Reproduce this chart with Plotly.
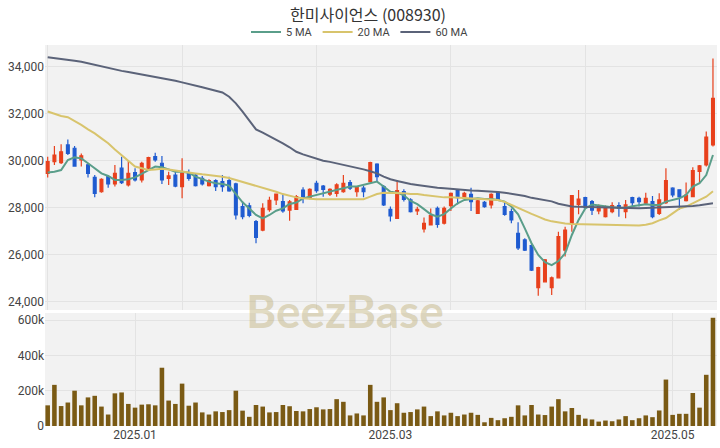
import plotly.graph_objects as go

title = "한미사이언스 (008930)"

dates = [
    "2024-12-11", "2024-12-12", "2024-12-13", "2024-12-16", "2024-12-17", "2024-12-18", "2024-12-19",
    "2024-12-20", "2024-12-23", "2024-12-24", "2024-12-26", "2024-12-27", "2024-12-30",
    "2025-01-02", "2025-01-03", "2025-01-06", "2025-01-07", "2025-01-08", "2025-01-09", "2025-01-10",
    "2025-01-13", "2025-01-14", "2025-01-15", "2025-01-16", "2025-01-17", "2025-01-20", "2025-01-21",
    "2025-01-22", "2025-01-23", "2025-01-24", "2025-01-31",
    "2025-02-03", "2025-02-04", "2025-02-05", "2025-02-06", "2025-02-07", "2025-02-10", "2025-02-11",
    "2025-02-12", "2025-02-13", "2025-02-14", "2025-02-17", "2025-02-18", "2025-02-19", "2025-02-20",
    "2025-02-21", "2025-02-24", "2025-02-25", "2025-02-26", "2025-02-27", "2025-02-28",
    "2025-03-04", "2025-03-05", "2025-03-06", "2025-03-07", "2025-03-10", "2025-03-11", "2025-03-12",
    "2025-03-13", "2025-03-14", "2025-03-17", "2025-03-18", "2025-03-19", "2025-03-20", "2025-03-21",
    "2025-03-24", "2025-03-25", "2025-03-26", "2025-03-27", "2025-03-28", "2025-03-31",
    "2025-04-01", "2025-04-02", "2025-04-03", "2025-04-04", "2025-04-07", "2025-04-08", "2025-04-09",
    "2025-04-10", "2025-04-11", "2025-04-14", "2025-04-15", "2025-04-16", "2025-04-17", "2025-04-18",
    "2025-04-21", "2025-04-22", "2025-04-23", "2025-04-24", "2025-04-25", "2025-04-28", "2025-04-29",
    "2025-04-30",
    "2025-05-02", "2025-05-07", "2025-05-08", "2025-05-09", "2025-05-12", "2025-05-13", "2025-05-14",
]

opens = [29460, 29960, 29920, 30670, 30530, 30030, 29820, 29290, 28680, 29320,
         29010, 29680, 28970, 29490, 29180, 29680, 30170, 29890, 29250, 29390,
         28900, 29490, 29390, 29250, 28940, 29150, 29110, 29150, 29010, 28050,
         28080, 27410, 27050, 27920, 28330, 28260, 27900, 27930, 28750, 28400,
         29040, 28920, 28580, 28610, 28680, 29070, 28680, 28830, 29110, 29860,
         28900, 27930, 27550, 28690, 28330, 27860, 27100, 27270, 27970, 27340,
         28090, 28750, 28400, 28570, 27760, 28230, 28120, 28650, 28050, 27830,
         26910, 26630, 26390, 24600, 24850, 24600, 25020, 26200, 27340, 28140,
         28430, 28260, 27860, 27620, 27830, 28090, 27830, 28430, 28400, 28190,
         28260, 27760, 28220, 28830, 28760, 28300, 28470, 29540, 29820, 30670]
highs = [30170, 30620, 30700, 30900, 30620, 30310, 29890, 29390, 29250, 29390,
         29820, 30170, 30000, 29680, 29960, 30170, 30340, 30200, 29530, 29530,
         30100, 29630, 29460, 29350, 29210, 29210, 29390, 29320, 29060, 28260,
         28210, 27480, 28190, 28470, 28600, 28580, 28330, 28540, 28870, 28830,
         29150, 28970, 28830, 29040, 29390, 29180, 28900, 28920, 29960, 29890,
         28970, 28050, 29180, 28790, 28400, 28040, 27580, 27970, 28050, 28050,
         28650, 28800, 28680, 28850, 28330, 28290, 28610, 28680, 28290, 27970,
         27380, 26700, 26490, 25490, 25820, 25070, 26980, 27190, 28540, 28750,
         28470, 28330, 28140, 28090, 28230, 28230, 28330, 28470, 28470, 28640,
         28500, 28610, 29680, 28870, 28780, 29070, 29720, 29820, 31240, 34350]
lows = [29290, 29820, 29860, 30240, 29750, 29750, 29280, 28440, 28640, 28850,
        28900, 29010, 28900, 29110, 29070, 29580, 29960, 29010, 28970, 28870,
        28400, 29150, 28900, 28940, 28900, 28710, 28680, 28680, 27500, 27510,
        27590, 26490, 27000, 27830, 28120, 27790, 27450, 27900, 28190, 28360,
        28640, 28470, 28500, 28470, 28640, 28750, 28470, 28440, 29070, 29110,
        28070, 27410, 27520, 28260, 27800, 27690, 26950, 27240, 27150, 27290,
        27860, 28140, 28370, 27860, 27760, 28000, 27970, 28290, 27660, 27340,
        26200, 26160, 25310, 24260, 24830, 24290, 24990, 25920, 26980, 27720,
        27950, 27690, 27720, 27580, 27760, 27620, 27550, 28050, 28050, 28160,
        27550, 27690, 28160, 28440, 27910, 28260, 28440, 29040, 29750, 30600]
closes = [29960, 30240, 30380, 30310, 29770, 30210, 29460, 28610, 29210, 29010,
          29460, 29070, 29460, 29180, 29890, 30130, 30030, 29180, 29350, 28920,
          29460, 29250, 28940, 29010, 29150, 28900, 28900, 28720, 27690, 27620,
          27670, 26740, 27970, 28310, 28580, 27860, 28250, 28470, 28470, 28780,
          28730, 28780, 28780, 28970, 29040, 28830, 28870, 28680, 29920, 29320,
          28120, 27650, 28730, 28350, 27830, 27930, 27340, 27660, 27290, 27970,
          28610, 28430, 28610, 28260, 28290, 28050, 28570, 28330, 27720, 27480,
          26290, 26200, 25350, 25450, 25780, 25020, 26770, 27050, 28510, 28370,
          28000, 27900, 28050, 28050, 28090, 27970, 28120, 28220, 28260, 28400,
          27620, 28330, 29150, 28540, 28470, 28540, 29580, 29780, 31000, 32650]
volumes = [117, 233, 113, 133, 200, 117, 162, 171, 110, 65,
           185, 190, 125, 104, 121, 123, 117, 330, 144, 125,
           240, 115, 133, 77, 65, 83, 79, 90, 200, 87,
           52, 119, 110, 77, 79, 119, 112, 85, 83, 96,
           106, 94, 96, 152, 137, 60, 71, 60, 233, 137,
           162, 90, 129, 75, 79, 94, 110, 56, 83, 60,
           75, 56, 65, 75, 63, 21, 46, 33, 44, 52,
           117, 60, 119, 65, 62, 110, 152, 83, 102, 63,
           42, 37, 25, 31, 27, 37, 56, 33, 44, 60,
           50, 88, 263, 63, 69, 69, 187, 104, 290, 613]
volumes = [v * 1000 for v in volumes]

ma5 = [29500, 29530, 29600, 30030, 30140, 30100, 29890, 29680, 29460, 29350,
       29180, 29180, 29210, 29290, 29460, 29600, 29750, 29720, 29630, 29530,
       29530, 29490, 29320, 29210, 29110, 29040, 29010, 28940, 28600, 28230,
       27970, 27690, 27550, 27690, 27870, 27970, 28160, 28220, 28400, 28470,
       28540, 28610, 28680, 28750, 28830, 28900, 28900, 28970, 29070, 29110,
       28900, 28680, 28640, 28530, 28290, 28150, 27940, 27720, 27620, 27730,
       27970, 28190, 28330, 28380, 28400, 28370, 28370, 28330, 28260, 28050,
       27720, 27120, 26490, 25990, 25680, 25560, 25730, 26060, 26840, 27480,
       27970, 28140, 28090, 28050, 28020, 28000, 28000, 28060, 28090, 28150,
       28120, 28120, 28260, 28330, 28400, 28540, 28900, 29040, 29390, 30240]
ma20 = [32090, 31990, 31900, 31850, 31700, 31520, 31330, 31160, 30950, 30740,
        30480, 30240, 29960, 29750, 29680, 29600, 29630, 29660, 29630, 29580,
        29530, 29490, 29460, 29420, 29390, 29350, 29320, 29260, 29180, 29110,
        29010, 28920, 28850, 28780, 28680, 28580, 28500, 28440, 28400, 28370,
        28360, 28360, 28360, 28360, 28360, 28360, 28360, 28360, 28470, 28580,
        28640, 28640, 28640, 28610, 28580, 28580, 28540, 28500, 28470, 28440,
        28440, 28420, 28400, 28390, 28370, 28360, 28350, 28330, 28250, 28120,
        27970, 27870, 27740, 27620, 27500, 27420, 27360, 27330, 27310, 27300,
        27300, 27290, 27280, 27270, 27260, 27250, 27240, 27230, 27240, 27280,
        27340, 27460, 27560, 27760, 27960, 28050, 28190, 28300, 28470, 28700]
ma60 = [34400, 34370, 34330, 34290, 34250, 34210, 34140, 34070, 34000, 33940,
        33870, 33820, 33770, 33720, 33670, 33620, 33580, 33520, 33470, 33400,
        33330, 33270, 33200, 33120, 33050, 32980, 32900, 32720, 32440, 32090,
        31730, 31330, 31190, 31050, 30880, 30740, 30570, 30380, 30270, 30170,
        30090, 30000, 29950, 29890, 29830, 29770, 29700, 29630, 29550, 29460,
        29320, 29210, 29140, 29070, 29010, 28970, 28920, 28900, 28850, 28830,
        28800, 28780, 28750, 28730, 28720, 28710, 28690, 28670, 28640, 28590,
        28560, 28500, 28420, 28370, 28320, 28270, 28170, 28100, 28050, 28040,
        28030, 28020, 28020, 28010, 28000, 27990, 27980, 27980, 27980, 27990,
        28000, 28000, 28010, 28020, 28030, 28050, 28070, 28100, 28140, 28190]

price_ticks = [24000, 26000, 28000, 30000, 32000, 34000]
vol_ticks = [0, 200000, 400000, 600000]
vol_tick_text = ["0", "200k", "400k", "600k"]
month_tick_dates = ["2025-01-02", "2025-03-04", "2025-05-02"]
month_tick_text = ["2025.01", "2025.03", "2025.05"]
top_grid_dates = [dates[0], dates[20], dates[40], dates[60], dates[80]]

UP = "#e8401c"
DOWN = "#1f5bd0"
VOLC = "#7a5a14"
C5 = "#5a9e8a"
C20 = "#d8c46c"
C60 = "#5b6379"
TFONT = "Noto Sans CJK KR, Noto Sans, sans-serif"
NFONT = "Roboto, Noto Sans, sans-serif"

fig = go.Figure()

fig.add_trace(go.Candlestick(
    x=dates, open=opens, high=highs, low=lows, close=closes,
    increasing=dict(line=dict(color=UP, width=1.2), fillcolor=UP),
    decreasing=dict(line=dict(color=DOWN, width=1.2), fillcolor=DOWN),
    showlegend=False, xaxis="x", yaxis="y", hoverinfo="skip",
))
fig.add_trace(go.Scatter(x=dates, y=ma5, mode="lines", name="5 MA",
                         line=dict(color=C5, width=2), xaxis="x", yaxis="y"))
fig.add_trace(go.Scatter(x=dates, y=ma20, mode="lines", name="20 MA",
                         line=dict(color=C20, width=2), xaxis="x", yaxis="y"))
fig.add_trace(go.Scatter(x=dates, y=ma60, mode="lines", name="60 MA",
                         line=dict(color=C60, width=2), xaxis="x", yaxis="y"))
fig.add_trace(go.Bar(x=dates, y=volumes, marker=dict(color=VOLC, line=dict(width=0)),
                     showlegend=False, xaxis="x2", yaxis="y2"))

H = 448
mt, mb = 45, 22
ph = H - mt - mb
top_dom = [1 - (310 - mt) / ph, 1]
bot_dom = [0, (426 - 313) / ph]

fig.update_layout(
    width=720, height=448,
    margin=dict(l=45, r=3, t=mt, b=mb, autoexpand=False),
    paper_bgcolor="white", plot_bgcolor="#f2f2f2",
    font=dict(family=NFONT, size=12, color="#444"),
    title=dict(text=title, x=368 / 720, xanchor="center", yref="container", y=1 - 15 / H, yanchor="middle",
               font=dict(size=16, color="#333", family=TFONT)),
    legend=dict(orientation="h", xref="container", x=0.5, xanchor="center", yref="container", y=1 - 32 / H,
                yanchor="middle", font=dict(size=11, color="#444", family=NFONT),
                bgcolor="rgba(0,0,0,0)"),
    boxgap=0.4, bargap=0.32,
    showlegend=True,
    xaxis=dict(type="category", domain=[0, 1], anchor="y", range=[-0.4, 99.6], automargin=False,
               rangeslider=dict(visible=False), showticklabels=False,
               tickmode="array", tickvals=top_grid_dates, showgrid=True, gridcolor="#e3e3e3",
               zeroline=False, showline=False, ticks=""),
    yaxis=dict(domain=top_dom, anchor="x", range=[23650, 34920], tickmode="array", automargin=False,
               tickvals=price_ticks, tickformat=",", showgrid=True, gridcolor="#e3e3e3",
               zeroline=False, ticks="", tickfont=dict(size=12, color="#444")),
    xaxis2=dict(type="category", domain=[0, 1], anchor="y2", range=[-0.4, 99.6], automargin=False,
                matches="x", tickmode="array", tickvals=month_tick_dates, ticktext=month_tick_text,
                showgrid=True, gridcolor="#e3e3e3", zeroline=False, ticks="",
                tickfont=dict(size=12, color="#444")),
    yaxis2=dict(domain=bot_dom, anchor="x2", range=[0, 640000], tickmode="array", automargin=False,
                tickvals=vol_ticks, ticktext=vol_tick_text, showgrid=True, gridcolor="#e3e3e3",
                zeroline=False, ticks="", tickfont=dict(size=12, color="#444")),
)

fig.add_annotation(text="<b>BeezBase</b>", xref="paper", yref="paper",
                   x=(345 - 45) / 672, y=(426 - 310) / ph, xanchor="center", yanchor="middle",
                   showarrow=False,
                   font=dict(size=46, color="rgba(190,175,120,0.45)", family="Lato, Roboto, sans-serif"))

fig.write_html("out.html", config={"displayModeBar": False},
               post_script="document.body.style.margin='0px';")
